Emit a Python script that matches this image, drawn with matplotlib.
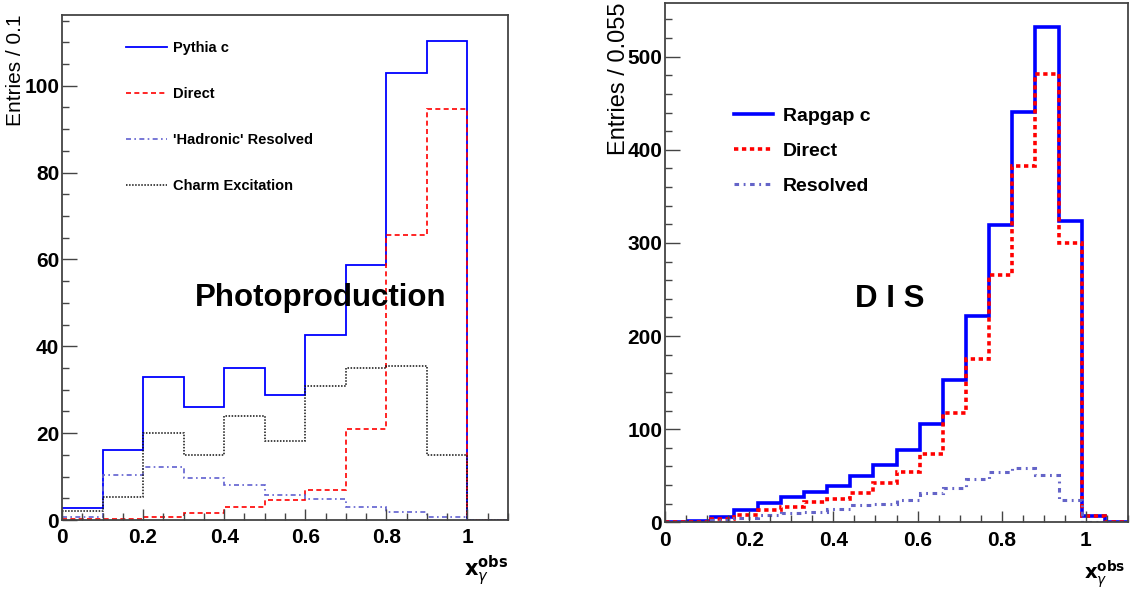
import numpy as np
import matplotlib
matplotlib.use("Agg")
import matplotlib.pyplot as plt
from matplotlib.font_manager import FontProperties
from matplotlib.ticker import MultipleLocator, FuncFormatter

plt.rcParams['font.family'] = ['Liberation Sans', 'DejaVu Sans']

# Photoproduction: bins of 0.1 in x_gamma^obs
pp_edges = np.round(np.arange(0, 1.1001, 0.1), 3)
pythia_c = [2.8, 16.2, 33.0, 26.1, 35.1, 28.9, 42.5, 58.8, 102.9, 110.3, 0]
pp_direct = [0.2, 0.3, 0.8, 1.5, 3.1, 4.5, 6.9, 21.0, 65.7, 94.6, 0]
pp_resolved = [0.7, 10.4, 12.3, 9.6, 8.0, 5.8, 4.8, 3.1, 1.9, 0.7, 0]
charm_exc = [2.1, 5.4, 20.0, 15.0, 24.0, 18.3, 30.8, 34.9, 35.4, 15.0, 0]

# DIS: bins of 0.055
dis_edges = np.round(np.arange(0, 1.1001, 0.055), 4)
rapgap_c = [0.8, 1.0, 6.0, 12.8, 20.4, 26.8, 32.7, 38.5, 49.2, 62.0, 77.8,
            105.3, 153.3, 221.8, 319.8, 441.0, 531.8, 324.0, 7.0, 0]
dis_direct = [0.4, 0.5, 3.2, 8.3, 13.0, 16.5, 21.7, 24.6, 31.1, 41.9, 53.5,
              73.5, 117.0, 175.5, 265.4, 382.4, 481.0, 299.8, 6.6, 0]
dis_resolved = [0.4, 0.5, 2.8, 4.5, 7.4, 10.3, 11.0, 13.9, 18.1, 20.1, 24.3,
                31.8, 36.3, 46.3, 54.4, 58.6, 50.8, 24.2, 0.4, 0]

fig = plt.figure(figsize=(11.46, 5.89), dpi=100)
ax1 = fig.add_axes([62 / 1146, 69 / 589, 446 / 1146, 505 / 589])
ax2 = fig.add_axes([665 / 1146, 66.7 / 589, 463 / 1146, 519.6 / 589])

frame_col = '#444444'
tick_font = FontProperties(family='Liberation Sans', weight='bold', size=15)


def fmt(v, pos):
    return '%g' % round(v, 3)


def style_axes(ax, ymajor, yminor, xlab_size):
    ax.set_xlim(0, 1.1)
    ax.xaxis.set_major_locator(MultipleLocator(0.2))
    ax.xaxis.set_minor_locator(MultipleLocator(0.05))
    ax.yaxis.set_major_locator(MultipleLocator(ymajor))
    ax.yaxis.set_minor_locator(MultipleLocator(yminor))
    ax.xaxis.set_major_formatter(FuncFormatter(fmt))
    ax.yaxis.set_major_formatter(FuncFormatter(fmt))
    for s in ax.spines.values():
        s.set_color(frame_col)
        s.set_linewidth(1.3)
    ax.tick_params(which='both', direction='in', color=frame_col, width=1.0)
    ax.tick_params(axis='x', which='major', length=8, pad=6)
    ax.tick_params(axis='y', which='major', length=11, pad=2)
    ax.tick_params(which='minor', length=5)
    for lab in ax.get_xticklabels() + ax.get_yticklabels():
        lab.set_fontproperties(tick_font)
    ax.text(0.95, -0.1, r'$\mathbf{x}_{\gamma}^{\mathbf{obs}}$', transform=ax.transAxes,
            ha='center', va='center', fontsize=xlab_size)


# left panel: photoproduction
ax1.stairs(pythia_c, pp_edges, baseline=None, color='#0000ff', lw=1.3, label='Pythia c')
ax1.stairs(pp_direct, pp_edges, baseline=None, color='#ff0000', lw=1.2,
           linestyle=(0, (3, 2)), label='Direct')
ax1.stairs(pp_resolved, pp_edges, baseline=None, color='#6060d0', lw=1.2,
           linestyle=(0, (3, 2, 1, 2)), label="'Hadronic' Resolved")
ax1.stairs(charm_exc, pp_edges, baseline=None, color='#111111', lw=1.1,
           linestyle=(0, (1, 1)), label='Charm Excitation')
ax1.set_ylim(0, 116.3)
style_axes(ax1, 20, 5, 15)
ax1.set_ylabel('Entries / 0.1', fontsize=15, loc='top')
ax1.yaxis.set_label_coords(-0.084, 1.0)
ax1.text(0.58, 0.44, 'Photoproduction', transform=ax1.transAxes, ha='center',
         va='center', fontsize=22.5, fontweight='bold')
ax1.legend(loc='upper left', bbox_to_anchor=(0.115, 0.975), frameon=False,
           prop=dict(weight='bold', size=10.5), handlelength=2.8,
           handletextpad=0.4, labelspacing=2.2)

# right panel: DIS
ax2.stairs(rapgap_c, dis_edges, baseline=None, color='#0000ff', lw=2.6, label='Rapgap c')
ax2.stairs(dis_direct, dis_edges, baseline=None, color='#ff0000', lw=2.6,
           linestyle=(0, (1.2, 1)), label='Direct')
ax2.stairs(dis_resolved, dis_edges, baseline=None, color='#6464c8', lw=2.2,
           linestyle=(0, (1.5, 1.5, 0.6, 1.5)), label='Resolved')
ax2.set_ylim(0, 558)
style_axes(ax2, 100, 20, 14)
ax2.set_ylabel('Entries / 0.055', fontsize=17, loc='top')
ax2.yaxis.set_label_coords(-0.0756, 1.0)
ax2.text(0.486, 0.43, 'D I S', transform=ax2.transAxes, ha='center',
         va='center', fontsize=22.5, fontweight='bold')
ax2.legend(loc='upper left', bbox_to_anchor=(0.112, 0.832), frameon=False,
           prop=dict(weight='bold', size=14), handlelength=2.0,
           handletextpad=0.5, labelspacing=0.88)

fig.savefig('out.png', dpi=100)
